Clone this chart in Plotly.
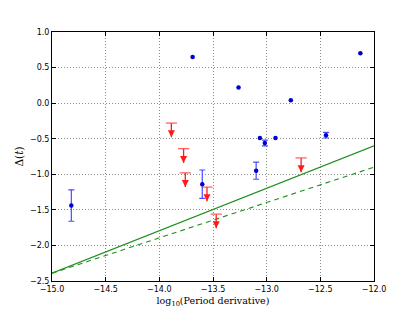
import plotly.graph_objects as go

# Detections (log10 Pdot, Delta(t), error)
det_x = [-14.82, -13.69, -13.60, -13.262, -13.098, -13.063, -13.017, -12.918, -12.775, -12.447, -12.127]
det_y = [-1.44, 0.65, -1.14, 0.22, -0.95, -0.49, -0.56, -0.49, 0.04, -0.45, 0.70]
det_err = [0.22, 0.0, 0.20, 0.0, 0.12, 0.0, 0.04, 0.0, 0.0, 0.04, 0.0]

# Upper limits
ul_x = [-13.888, -13.774, -13.758, -13.556, -13.470, -12.679]
ul_y = [-0.28, -0.64, -0.98, -1.18, -1.56, -0.77]
ul_len = 0.2

# Lines
line_x = [-15.0, -12.0]
solid_y = [-2.39, -0.60]
dashed_y = [-2.39, -0.90]

x_ticks = [-15.0, -14.5, -14.0, -13.5, -13.0, -12.5, -12.0]
y_ticks = [1.0, 0.5, 0.0, -0.5, -1.0, -1.5, -2.0, -2.5]

fig = go.Figure()

green = "#1f8f1f"
fig.add_trace(go.Scatter(x=line_x, y=solid_y, mode="lines",
                         line=dict(color=green, width=1.1), showlegend=False))
fig.add_trace(go.Scatter(x=line_x, y=dashed_y, mode="lines",
                         line=dict(color=green, width=1.1, dash="5px,4px"), showlegend=False))

# points with error bars
ex = [x for x, e in zip(det_x, det_err) if e > 0]
ey = [y for y, e in zip(det_y, det_err) if e > 0]
ee = [e for e in det_err if e > 0]
nx = [x for x, e in zip(det_x, det_err) if e == 0]
ny = [y for y, e in zip(det_y, det_err) if e == 0]

fig.add_trace(go.Scatter(x=ex, y=ey, mode="markers",
                         marker=dict(color="#0000cc", size=4.5),
                         error_y=dict(type="data", array=ee, color="#4a4aff",
                                      thickness=1.2, width=3),
                         showlegend=False))
fig.add_trace(go.Scatter(x=nx, y=ny, mode="markers",
                         marker=dict(color="#0000cc", size=4.5), showlegend=False))

# upper limits: stem, cap, arrow head
stem_x, stem_y = [], []
for x, y in zip(ul_x, ul_y):
    stem_x += [x, x, None]
    stem_y += [y, y - ul_len, None]
red = "#ff1a1a"
fig.add_trace(go.Scatter(x=stem_x, y=stem_y, mode="lines",
                         line=dict(color=red, width=1.3), showlegend=False))
fig.add_trace(go.Scatter(x=ul_x, y=ul_y, mode="markers",
                         marker=dict(symbol="line-ew", size=8,
                                     line=dict(color="rgba(255,60,60,0.8)", width=1.3)),
                         showlegend=False))
fig.add_trace(go.Scatter(x=ul_x, y=[y - ul_len for y in ul_y], mode="markers",
                         marker=dict(symbol="arrow-down", size=7, color=red,
                                     line=dict(width=0)),
                         showlegend=False))

fmt = lambda v: f"{v:.1f}".replace("-", "\u2212")
common = dict(showgrid=True, gridcolor="#8a8a8a", griddash="1px,2px", gridwidth=1,
              zeroline=False, showline=True, linecolor="black", linewidth=1,
              mirror="allticks", ticks="inside", ticklen=4, tickcolor="black",
              tickfont=dict(family="DejaVu Sans", size=8, color="black"),
              automargin=False)
fig.update_xaxes(range=[-15, -12], tickvals=x_ticks, ticktext=[fmt(v) for v in x_ticks],
                 title=dict(text="log<sub>10</sub>(Period derivative)",
                            font=dict(family="DejaVu Serif", size=9.5, color="black"),
                            standoff=4), **common)
fig.update_yaxes(range=[-2.5, 1.0], tickvals=y_ticks, ticktext=[fmt(v) for v in y_ticks],
                 title=dict(text="\u0394(<i>t</i>)",
                            font=dict(family="DejaVu Serif", size=10.5, color="black"),
                            standoff=4), **common)

fig.update_layout(width=415, height=312,
                  margin=dict(l=52, r=41, t=32, b=31),
                  paper_bgcolor="white", plot_bgcolor="white")

fig.write_html("out.html", config={"displayModeBar": False},
               post_script="document.body.style.margin='0';document.body.style.overflow='hidden';")
